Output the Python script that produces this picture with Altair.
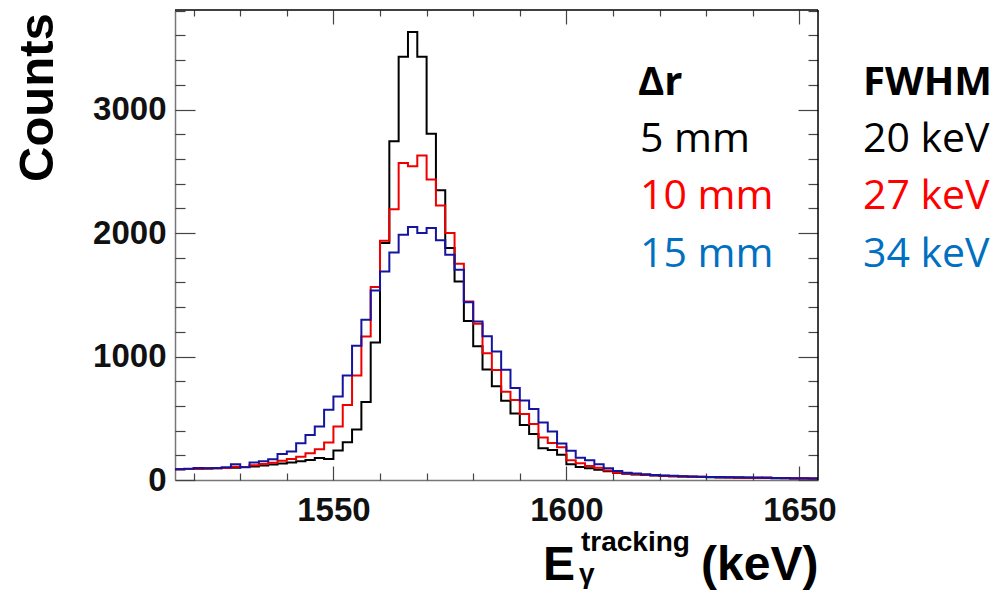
import altair as alt
import pandas as pd

# Histogram binning (keV) and vertical range (counts)
BIN_WIDTH = 2
E_LOW = 1516
E_HIGH = 1654
Y_MAX = 3806

# Counts per 2 keV bin, first bin starting at E_LOW
COUNTS_5MM = [
    88, 90, 92, 93, 95, 97, 100, 105, 110, 117, 125, 133, 142, 152, 162, 178, 170,
    238, 305, 408, 632, 1114, 1919, 2744, 3427, 3628, 3427, 2804, 2346, 1879, 1608,
    1288, 1084, 895, 760, 641, 538, 446, 372, 257, 243, 205, 128, 105, 95, 84, 70,
    56, 50, 45, 40, 36, 33, 30, 28, 26, 24, 22, 21, 20, 19, 18, 17, 16, 15, 14, 13,
    13, 12,
]
COUNTS_10MM = [
    88, 90, 92, 93, 95, 98, 108, 105, 120, 130, 140, 155, 170, 189, 216, 249, 303,
    433, 608, 846, 1163, 1563, 1937, 2192, 2568, 2541, 2628, 2433, 2222, 2001, 1752,
    1446, 1265, 1027, 890, 714, 648, 534, 453, 345, 300, 265, 160, 135, 114, 99, 76,
    59, 52, 46, 42, 38, 34, 31, 29, 27, 26, 25, 23, 22, 20, 19, 18, 20, 17, 14, 13,
    12, 11,
]
COUNTS_15MM = [
    87, 92, 98, 95, 98, 103, 127, 103, 141, 151, 168, 211, 230, 297, 365, 433, 568,
    676, 846, 1087, 1298, 1535, 1689, 1843, 1987, 2049, 2001, 2041, 1941, 1825, 1703,
    1440, 1284, 1165, 1041, 892, 744, 643, 575, 465, 392, 295, 237, 180, 160, 128, 95,
    72, 59, 52, 46, 41, 37, 34, 31, 29, 27, 25, 24, 23, 22, 21, 20, 18, 17, 16, 15,
    14, 13,
]

DELTA_R = ["5 mm", "10 mm", "15 mm"]
FWHM = ["20 keV", "27 keV", "34 keV"]
LINE_COLORS = ["#000000", "#ee0000", "#1414a0"]
TEXT_COLORS = ["#000000", "#ff0000", "#0070c0"]

X_MAJOR = [1550, 1600, 1650]
X_MINOR = [1520, 1530, 1540, 1560, 1570, 1580, 1590, 1610, 1620, 1630, 1640]
Y_MAJOR = [0, 1000, 2000, 3000]
Y_MINOR = [200, 400, 600, 800, 1200, 1400, 1600, 1800, 2200, 2400, 2600, 2800,
           3200, 3400, 3600, 3800]

PLOT_W, PLOT_H = 643, 470
PAD_L, PAD_T = 175, 10

AXIS_FONT = "Liberation Sans"
NOTE_FONT = "Open Sans"
TICK_COLOR = "#444444"
FRAME_GRAY = "#777777"

x_scale = alt.Scale(domain=[E_LOW, E_HIGH], nice=False, zero=False)
y_scale = alt.Scale(domain=[0, Y_MAX], nice=False, zero=True)


def steps(counts):
    """Bin low edges plus the closing edge, so step-after draws full bins."""
    edges = [E_LOW + BIN_WIDTH * i for i in range(len(counts) + 1)]
    return pd.DataFrame({"E": edges, "N": list(counts) + [counts[-1]]})


def label_axis(orient, values, padding):
    return alt.Axis(orient=orient, values=values, format="d", title=None,
                    grid=False, ticks=False, tickSize=0, domain=True,
                    domainColor=FRAME_GRAY, domainWidth=1.5,
                    labelFont=AXIS_FONT, labelFontWeight="bold", labelFontSize=33,
                    labelColor="#111111", labelPadding=padding,
                    labelFlush=False, labelOverlap=False)


def tick_axis(orient, values, size):
    # Negative offset pulls the axis inside the frame so its ticks point inward
    return alt.Axis(orient=orient, values=values, title=None, grid=False,
                    labels=False, domain=False, ticks=True, tickSize=size,
                    offset=-size, tickColor=TICK_COLOR, tickWidth=1.2)


def hist_layer(counts, color, x_axis, y_axis):
    return alt.Chart(steps(counts)).mark_line(
        interpolate="step-after", strokeWidth=2, color=color
    ).encode(
        x=alt.X("E:Q", scale=x_scale, axis=x_axis),
        y=alt.Y("N:Q", scale=y_scale, axis=y_axis),
    )


black = hist_layer(COUNTS_5MM, LINE_COLORS[0],
                   label_axis("bottom", X_MAJOR, 14), label_axis("left", Y_MAJOR, 9))
red = hist_layer(COUNTS_10MM, LINE_COLORS[1],
                 tick_axis("bottom", X_MAJOR, 14), tick_axis("left", Y_MAJOR, 20))
blue = hist_layer(COUNTS_15MM, LINE_COLORS[2],
                  tick_axis("bottom", X_MINOR, 7), tick_axis("left", Y_MINOR, 10))

# Top and right edges of the frame
top_edge = alt.Chart(pd.DataFrame({"x0": [E_LOW], "x1": [E_HIGH], "y": [Y_MAX]})).mark_rule(
    color="#000000", strokeWidth=1.5
).encode(
    x=alt.X("x0:Q", scale=x_scale, axis=tick_axis("top", X_MAJOR, 14)),
    x2="x1:Q",
    y=alt.Y("y:Q", scale=y_scale, axis=tick_axis("right", Y_MAJOR, 20)),
)
right_edge = alt.Chart(pd.DataFrame({"x": [E_HIGH], "y0": [0], "y1": [Y_MAX]})).mark_rule(
    color="#000000", strokeWidth=1.5
).encode(
    x=alt.X("x:Q", scale=x_scale, axis=tick_axis("top", X_MINOR, 6)),
    y=alt.Y("y0:Q", scale=y_scale, axis=tick_axis("right", Y_MINOR, 10)),
    y2="y1:Q",
)


def text_at(text, px, py, size, color="#000000", font=AXIS_FONT, weight="bold",
            angle=0):
    """Free text placed in page pixels (converted to view coordinates)."""
    return alt.Chart(alt.Data(values=[{"t": text}])).mark_text(
        align="left", baseline="alphabetic", font=font, fontSize=size,
        fontWeight=weight, color=color, angle=angle,
    ).encode(
        x=alt.value(px - PAD_L), y=alt.value(py - PAD_T), text="t:N"
    )


texts = [
    # axis titles
    text_at("Counts", 53, 182, 49, angle=270),
    text_at("E", 543, 580, 48),
    text_at("γ", 579, 583, 28),
    text_at("tracking", 581, 551, 28),
    text_at("(keV)", 701, 580, 48),
    # resolution table
    text_at("Δr", 638, 95, 40, font=NOTE_FONT),
    text_at("FWHM", 863, 95, 40, font=NOTE_FONT),
]
row_base = [152, 209, 267]
for label, fw, col, yb in zip(DELTA_R, FWHM, TEXT_COLORS, row_base):
    texts.append(text_at(label, 640, yb, 41, color=col, font=NOTE_FONT, weight="normal"))
    texts.append(text_at(fw, 863, yb, 41, color=col, font=NOTE_FONT, weight="normal"))

chart = alt.layer(black, red, blue, top_edge, right_edge, *texts).resolve_axis(
    x="independent", y="independent"
).properties(
    width=PLOT_W,
    height=PLOT_H,
    autosize=alt.AutoSizeParams(type="none"),
    padding={"left": PAD_L, "top": PAD_T, "right": 1002 - PAD_L - PLOT_W,
             "bottom": 592 - PAD_T - PLOT_H},
    background="white",
).configure_view(stroke=None)

chart.save("out.html", embed_options={"renderer": "svg", "actions": False})
